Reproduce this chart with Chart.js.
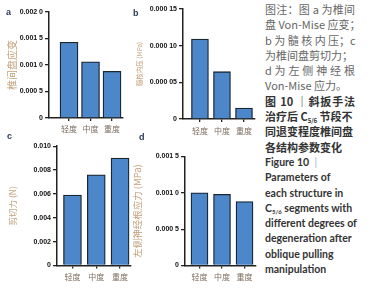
<!DOCTYPE html>
<html>
<head>
<meta charset="utf-8">
<script src="https://cdn.jsdelivr.net/npm/chart.js@4.4.1/dist/chart.umd.min.js"></script>
<style>
  body { margin: 0; background: #fff; width: 370px; height: 300px; overflow: hidden; position: relative; }
  canvas { position: absolute; }
  .tag { position: absolute; font: bold 9px "Liberation Sans", Arial, sans-serif; color: #2b3a55; }
  #cap { position: absolute; left: 265px; top: 2px; width: 90px; }
  #cap div { height: 15.3px; line-height: 15.3px; white-space: nowrap; }
  .zh { font: 11px "Noto Sans CJK SC", sans-serif; color: #666; }
  .zhb { font: bold 11px "Noto Sans CJK SC", sans-serif; color: #333; }
  .en { font: bold 10.5px Lato, "Open Sans", sans-serif; color: #333; }
  .j { text-align: justify; text-align-last: justify; }
  sub { font-size: 6px; vertical-align: -2px; }
</style>
</head>
<body>
<canvas id="ca" width="130" height="140" style="left:0;top:0"></canvas>
<canvas id="cb" width="130" height="140" style="left:130px;top:0"></canvas>
<canvas id="cc" width="133" height="160" style="left:0;top:140px"></canvas>
<canvas id="cd" width="130" height="160" style="left:130px;top:140px"></canvas>
<div class="tag" style="left:6px;top:7px">a</div>
<div class="tag" style="left:133px;top:8px">b</div>
<div class="tag" style="left:7px;top:131px">c</div>
<div class="tag" style="left:139px;top:132px">d</div>
<div id="cap">
  <div class="zh j">图注：图 a 为椎间</div>
  <div class="zh">盘 Von-Mise 应变；</div>
  <div class="zh j">b 为 髓 核 内 压；c</div>
  <div class="zh">为椎间盘剪切力；</div>
  <div class="zh j">d 为 左 侧 神 经 根</div>
  <div class="zh">Von-Mise 应力。</div>
  <div class="zhb j">图 10 ｜斜扳手法</div>
  <div class="zhb">治疗后 C<sub>5/6</sub> 节段不</div>
  <div class="zhb">同退变程度椎间盘</div>
  <div class="zhb">各结构参数变化</div>
  <div class="en">Figure 10 <span style="color:#a9b8cc;font-weight:normal">&nbsp;|</span></div>
  <div class="en">Parameters of</div>
  <div class="en">each structure in</div>
  <div class="en">C<sub>5/6</sub> segments with</div>
  <div class="en">different degrees of</div>
  <div class="en">degeneration after</div>
  <div class="en">oblique pulling</div>
  <div class="en">manipulation</div>
</div>
<script>
const categories = ['轻度', '中度', '重度'];

const strainValues = [0.00143, 0.00106, 0.00088];
const strainTicks = [0, 0.0005, 0.001, 0.0015, 0.002];
const strainTickLabels = ['0', '0.000 5', '0.001 0', '0.001 5', '0.002 0'];

const pressureValues = [0.000109, 0.0000645, 0.0000148];
const pressureTicks = [0, 0.00005, 0.0001, 0.00015];
const pressureTickLabels = ['0', '0.000 05', '0.000 10', '0.000 15'];

const shearValues = [0.0059, 0.0076, 0.0090];
const shearTicks = [0, 0.002, 0.004, 0.006, 0.008, 0.010];
const shearTickLabels = ['0', '0.002', '0.004', '0.006', '0.008', '0.010'];

const rootValues = [0.00100, 0.00098, 0.00088];
const rootTicks = [0, 0.0005, 0.001, 0.0015];
const rootTickLabels = ['0', '0.000 5', '0.001 0', '0.001 5'];

const axisColor = '#222';

// one small bar panel; x is a linear scale so the bars can sit away from the y axis
function makeChart (id, values, ticks, tickLabels, title, o) {
  const ctx = document.getElementById(id).getContext('2d');
  return new Chart(ctx, {
    type: 'bar',
    data: {
      datasets: [{
        data: values.map((v, i) => ({ x: i + 1, y: v })),
        backgroundColor: '#4b87c9',
        borderColor: '#1b2633',
        borderWidth: 1.3,
        barThickness: o.bar
      }]
    },
    options: {
      responsive: false,
      animation: false,
      devicePixelRatio: 1,
      layout: { padding: { left: 0, top: o.top, right: o.right, bottom: 0 } },
      plugins: { legend: { display: false }, tooltip: { enabled: false } },
      scales: {
        x: {
          type: 'linear',
          offset: false,
          min: o.xmin,
          max: o.xmax,
          afterBuildTicks: s => { s.ticks = [1, 2, 3].map(v => ({ value: v })) },
          afterFit: s => { s.height = o.xh },
          ticks: {
            callback: (v, i) => categories[i],
            font: { family: '"Noto Sans CJK SC"', size: 8 },
            color: '#7d6d5e',
            padding: o.xpad,
            maxRotation: 0
          },
          grid: { offset: false, drawOnChartArea: false, drawTicks: true, tickLength: 3, color: axisColor, lineWidth: 1.3 },
          border: { display: true, color: axisColor, width: 1.5 }
        },
        y: {
          min: 0,
          max: ticks[ticks.length - 1],
          afterBuildTicks: s => { s.ticks = ticks.map(v => ({ value: v })) },
          afterFit: s => { s.width = o.yw },
          ticks: {
            callback: (v, i) => tickLabels[i],
            font: { family: '"Liberation Sans", Arial', size: 7, weight: 'bold' },
            color: '#111',
            padding: 2
          },
          grid: { drawOnChartArea: false, drawTicks: true, tickLength: 4, color: axisColor, lineWidth: 1.3 },
          border: { display: true, color: axisColor, width: 1.5 },
          title: {
            display: true,
            text: title,
            color: '#c29f78',
            font: { family: '"Noto Sans CJK SC"', size: o.tsize },
            padding: { top: o.tpad, bottom: 0 }
          }
        }
      }
    }
  });
}

makeChart('ca', strainValues, strainTicks, strainTickLabels, '椎间盘应变',
  { top: 12, right: 7, xh: 22, yw: 49, xmin: 0.07, xmax: 3.51, bar: 18, xpad: 3, tsize: 10, tpad: 6 });
makeChart('cb', pressureValues, pressureTicks, pressureTickLabels, '髓核内压 (MPa)',
  { top: 9, right: 5, xh: 21, yw: 53, xmin: 0.23, xmax: 3.5, bar: 17, xpad: 4, tsize: 6.5, tpad: 6 });
makeChart('cc', shearValues, shearTicks, shearTickLabels, '剪切力 (N)',
  { top: 5, right: 2, xh: 34.5, yw: 57, xmin: 0.35, xmax: 3.46, bar: 18, xpad: 4, tsize: 8.5, tpad: 8 });
makeChart('cd', rootValues, rootTicks, rootTickLabels, '左侧神经根应力 (MPa)',
  { top: 16.5, right: 4, xh: 34.5, yw: 55, xmin: 0.356, xmax: 3.51, bar: 17, xpad: 4, tsize: 9.5, tpad: 2 });
</script>
</body>
</html>
